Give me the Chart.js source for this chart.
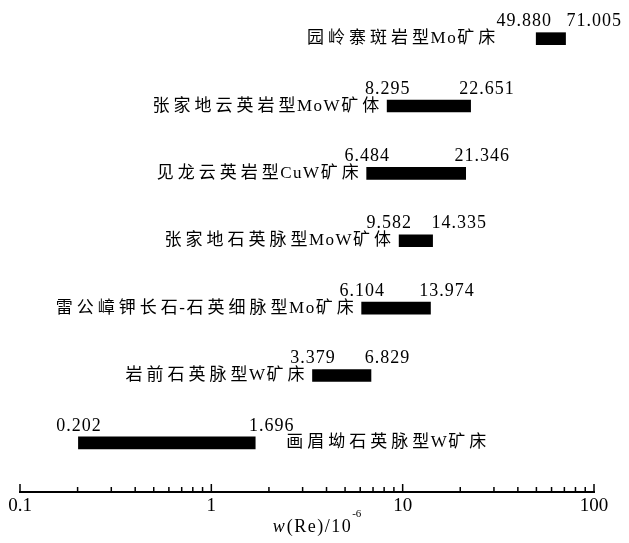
<!DOCTYPE html>
<html>
<head>
<meta charset="utf-8">
<script src="https://cdn.jsdelivr.net/npm/chart.js@4"></script>
<style>
  html, body { margin: 0; padding: 0; background: #fff; }
  #wrap { width: 629px; height: 543px; position: relative; }
</style>
</head>
<body>
<div id="wrap"><canvas id="chart"></canvas></div>
<script>
// --- data ---
const categories = [
    '园岭寨斑岩型Mo矿床',
    '张家地云英岩型MoW矿体',
    '见龙云英岩型CuW矿床',
    '张家地石英脉型MoW矿体',
    '雷公嶂钾长石-石英细脉型Mo矿床',
    '岩前石英脉型W矿床',
    '画眉坳石英脉型W矿床'
];
const reMin = [49.880, 8.295, 6.484, 9.582, 6.104, 3.379, 0.202];
const reMax = [71.005, 22.651, 21.346, 14.335, 13.974, 6.829, 1.696];
const xTicks = [0.1, 1, 10, 100];

// --- where the deposit names go (gap to the bar, which side) ---
const nameGap = [41, 8, 8, 8, 8, 8, 31];
const nameRight = [false, false, false, false, false, false, true];

const SERIF = '"Liberation Serif", "Noto Sans CJK SC", serif';

const barData = categories.map((c, i) => ({ x: [reMin[i], reMax[i]], y: categories.length - i }));

// draw text with letter spacing, aligned by hand
function textAt(ctx, s, x, y, align, spacing) {
    ctx.letterSpacing = spacing + 'px';
    const w = ctx.measureText(s).width - spacing;
    let left = x;
    if (align === 'center') left = x - w / 2;
    if (align === 'right') left = x - w;
    ctx.textAlign = 'left';
    ctx.fillText(s, left, y);
}

// names: wide gaps between Chinese characters, tight round latin letters
const isCJK = ch => /[\u3400-\u9fff]/.test(ch);
function nameAt(ctx, s, x, y, align) {
    ctx.letterSpacing = '0px';
    ctx.textAlign = 'left';
    const chars = Array.from(s);
    const adv = chars.map((ch, k) => {
        const nx = chars[k + 1];
        const gap = nx === undefined ? 0 : (isCJK(ch) && isCJK(nx) ? 4 : 1.5);
        return ctx.measureText(ch).width + gap;
    });
    const w = adv.reduce((a, b) => a + b, 0);
    let px = align === 'right' ? x - w : x;
    chars.forEach((ch, k) => {
        ctx.fillText(ch, px, y);
        px += adv[k];
    });
}

const rangeLabels = {
    id: 'rangeLabels',
    afterDraw(chart) {
        const ctx = chart.ctx;
        const xs = chart.scales.x;
        const meta = chart.getDatasetMeta(0);
        const axisY = chart.chartArea.bottom;
        ctx.save();

        // tick marks pointing up from the axis
        ctx.strokeStyle = '#000';
        ctx.lineWidth = 1.5;
        xs.ticks.forEach(t => {
            const px = xs.getPixelForValue(t.value);
            const len = xTicks.includes(t.value) ? 8 : 5;
            ctx.beginPath();
            ctx.moveTo(px, axisY);
            ctx.lineTo(px, axisY - len);
            ctx.stroke();
        });

        ctx.fillStyle = '#000';
        ctx.textBaseline = 'middle';
        meta.data.forEach((bar, i) => {
            const x0 = xs.getPixelForValue(reMin[i]);
            const x1 = xs.getPixelForValue(reMax[i]);

            // values above both ends
            ctx.font = '18px ' + SERIF;
            let c0 = x0, c1 = x1 + 16;
            const short = 70 - (c1 - c0);
            if (short > 0) { c0 -= short / 2; c1 += short / 2; }
            textAt(ctx, reMin[i].toFixed(3), c0, bar.y - 17, 'center', 1);
            textAt(ctx, reMax[i].toFixed(3), c1, bar.y - 17, 'center', 1);

            // deposit name
            ctx.font = '17px ' + SERIF;
            if (nameRight[i]) nameAt(ctx, categories[i], x1 + nameGap[i], bar.y, 'left');
            else nameAt(ctx, categories[i], x0 - nameGap[i], bar.y, 'right');
        });

        // axis title w(Re)/10^-6
        ctx.textBaseline = 'alphabetic';
        ctx.letterSpacing = '0px';
        const base = 532;
        ctx.font = 'italic 18px ' + SERIF;
        const wW = ctx.measureText('w').width;
        ctx.font = '18px ' + SERIF;
        ctx.letterSpacing = '1.5px';
        const wMid = ctx.measureText('(Re)/10').width;
        ctx.font = '11px ' + SERIF;
        ctx.letterSpacing = '0px';
        const wSup = ctx.measureText('-6').width;
        let x = (xs.left + xs.right) / 2 + 10 - (wW + 2 + wMid + wSup) / 2;
        ctx.textAlign = 'left';
        ctx.font = 'italic 18px ' + SERIF;
        ctx.fillText('w', x, base);
        x += wW + 2;
        ctx.font = '18px ' + SERIF;
        ctx.letterSpacing = '1.5px';
        ctx.fillText('(Re)/10', x, base);
        x += wMid;
        ctx.font = '11px ' + SERIF;
        ctx.letterSpacing = '0px';
        ctx.fillText('-6', x, base - 15);

        ctx.restore();
    }
};

new Chart(document.getElementById('chart'), {
    type: 'bar',
    data: {
        datasets: [{
            data: barData,
            backgroundColor: '#000',
            borderWidth: 0,
            barThickness: 12
        }]
    },
    options: {
        indexAxis: 'y',
        responsive: true,
        maintainAspectRatio: false,
        animation: false,
        layout: { padding: { left: 20, right: 35, top: 5, bottom: 0 } },
        plugins: {
            legend: { display: false },
            tooltip: { enabled: false }
        },
        scales: {
            x: {
                type: 'logarithmic',
                position: 'bottom',
                min: 0.1,
                max: 100,
                grid: { display: false, drawTicks: false },
                border: { display: true, color: '#000', width: 2 },
                ticks: {
                    color: '#000',
                    font: { family: SERIF, size: 19 },
                    padding: 3,
                    autoSkip: false,
                    maxRotation: 0,
                    callback: v => xTicks.includes(v) ? String(v) : ''
                },
                afterBuildTicks: scale => {
                    const ticks = [];
                    xTicks.forEach((d, k) => {
                        ticks.push({ value: d });
                        if (k < xTicks.length - 1) {
                            for (let m = 2; m <= 9; m++) ticks.push({ value: d * m });
                        }
                    });
                    scale.ticks = ticks;
                },
                afterFit: scale => { scale.height = 51; }
            },
            y: {
                type: 'linear',
                min: 0.27,
                max: 7.5,
                offset: false,
                display: false
            }
        }
    },
    plugins: [rangeLabels]
});
</script>
</body>
</html>
